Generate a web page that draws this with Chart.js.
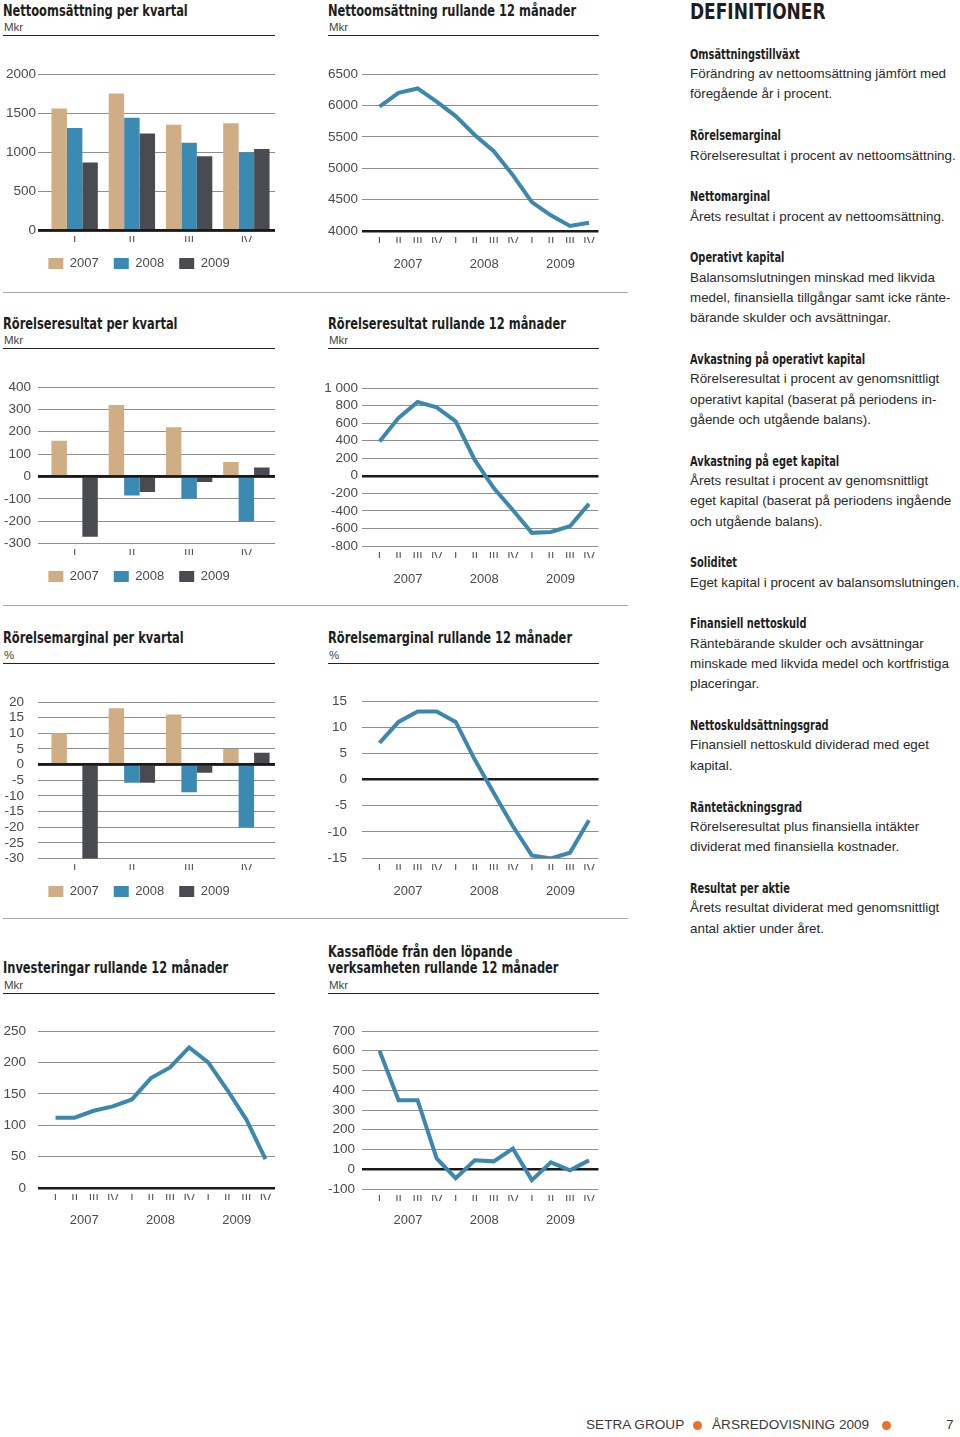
<!DOCTYPE html>
<html>
<head>
<meta charset="utf-8">
<script src="https://cdn.jsdelivr.net/npm/chart.js@4.4.1/dist/chart.umd.min.js"></script>
<style>
body { margin: 0; width: 960px; height: 1437px; position: relative; background: #fff; overflow: hidden;
       font-family: "Liberation Sans", Arial, sans-serif; color: #231f20; }
.title { position: absolute; font-family: "Liberation Sans Narrow", "DejaVu Sans Condensed", sans-serif;
         font-weight: bold; font-size: 15.5px; line-height: 17px; white-space: nowrap; color: #1e1e1e;
         transform: scaleX(0.82); transform-origin: 0 0; }
.unit { position: absolute; font-size: 11.5px; line-height: 14px; color: #444; }
.rule { position: absolute; height: 0; border-top: 1.3px solid #222; }
.sep { position: absolute; left: 3px; width: 625px; height: 0; border-top: 1.5px solid #a8a8a8; }
canvas { position: absolute; }
#defs { position: absolute; left: 690px; top: 43.8px; font-size: 13.4px; line-height: 20.35px; white-space: nowrap; color: #2a2a2a; }
#defs .h { font-family: "Liberation Sans Narrow", "DejaVu Sans Condensed", sans-serif; font-weight: bold; font-size: 13.5px;
           color: #1e1e1e; transform: scaleX(0.81); transform-origin: 0 50%; }
#defs .gap { height: 20.35px; }
#defhead { position: absolute; left: 690px; top: 0px; font-family: "Liberation Sans Narrow", "DejaVu Sans Condensed", sans-serif;
           font-weight: bold; font-size: 21px; line-height: 24px; color: #1e1e1e; transform: scaleX(0.9); transform-origin: 0 0; }
#foot { position: absolute; top: 1416px; left: 0; width: 960px; height: 18px; font-size: 13.6px; line-height: 18px; color: #3a3a3a; }
#foot span { position: absolute; }
#foot .dot { width: 9px; height: 9px; border-radius: 50%; background: #ec6f2d; top: 4.5px; }
</style>
</head>
<body>

<div class="title" style="left:3px;top:2.5px">Nettoomsättning per kvartal</div>
<div class="unit" style="left:4px;top:20px">Mkr</div>
<div class="rule" style="left:3px;top:35px;width:272px"></div>

<div class="title" style="left:328px;top:2.5px">Nettoomsättning rullande 12 månader</div>
<div class="unit" style="left:329px;top:20px">Mkr</div>
<div class="rule" style="left:328px;top:35px;width:271px"></div>

<div class="sep" style="top:292px"></div>

<div class="title" style="left:3px;top:315.5px">Rörelseresultat per kvartal</div>
<div class="unit" style="left:4px;top:333px">Mkr</div>
<div class="rule" style="left:3px;top:348px;width:272px"></div>

<div class="title" style="left:328px;top:315.5px">Rörelseresultat rullande 12 månader</div>
<div class="unit" style="left:329px;top:333px">Mkr</div>
<div class="rule" style="left:328px;top:348px;width:271px"></div>

<div class="sep" style="top:605px"></div>

<div class="title" style="left:3px;top:629.5px">Rörelsemarginal per kvartal</div>
<div class="unit" style="left:4px;top:648px">%</div>
<div class="rule" style="left:3px;top:663px;width:272px"></div>

<div class="title" style="left:328px;top:629.5px">Rörelsemarginal rullande 12 månader</div>
<div class="unit" style="left:329px;top:648px">%</div>
<div class="rule" style="left:328px;top:663px;width:271px"></div>

<div class="sep" style="top:918px"></div>

<div class="title" style="left:3px;top:959.5px">Investeringar rullande 12 månader</div>
<div class="unit" style="left:4px;top:978px">Mkr</div>
<div class="rule" style="left:3px;top:993px;width:272px"></div>

<div class="title" style="left:328px;top:943.5px;line-height:16.5px">Kassaflöde från den löpande<br>verksamheten rullande 12 månader</div>
<div class="unit" style="left:329px;top:978px">Mkr</div>
<div class="rule" style="left:328px;top:993px;width:271px"></div>

<canvas id="salesQ"></canvas>
<canvas id="salesR"></canvas>
<canvas id="ebitQ"></canvas>
<canvas id="ebitR"></canvas>
<canvas id="marginQ"></canvas>
<canvas id="marginR"></canvas>
<canvas id="investR"></canvas>
<canvas id="cashR"></canvas>

<div id="defhead">DEFINITIONER</div>
<div id="defs"></div>

<div id="foot">
  <span style="left:586px">SETRA GROUP</span>
  <span class="dot" style="left:692.5px"></span>
  <span style="left:712px">ÅRSREDOVISNING 2009</span>
  <span class="dot" style="left:881.5px"></span>
  <span style="left:946px">7</span>
</div>

<script>
// ---- data ----
const quarters = ['I', 'II', 'III', 'IV'];
const years = ['2007', '2008', '2009'];
const rollingQuarters = ['I', 'II', 'III', 'IV', 'I', 'II', 'III', 'IV', 'I', 'II', 'III', 'IV'];

// Nettoomsättning per kvartal, Mkr
const salesQ2007 = [1560, 1750, 1350, 1370];
const salesQ2008 = [1310, 1440, 1120, 1000];
const salesQ2009 = [870, 1240, 950, 1040];

// Nettoomsättning rullande 12 månader, Mkr
const salesRolling = [5980, 6200, 6270, 6060, 5830, 5530, 5270, 4890, 4460, 4250, 4080, 4130];

// Rörelseresultat per kvartal, Mkr
const ebitQ2007 = [160, 320, 220, 65];
const ebitQ2008 = [5, -85, -100, -200];
const ebitQ2009 = [-270, -70, -25, 40];

// Rörelseresultat rullande 12 månader, Mkr
const ebitRolling = [390, 660, 840, 780, 620, 180, -140, -390, -650, -640, -575, -320];

// Rörelsemarginal per kvartal, %
const marginQ2007 = [10, 18, 16, 5];
const marginQ2008 = [0.4, -5.8, -8.8, -20];
const marginQ2009 = [-30.5, -5.8, -2.6, 3.8];

// Rörelsemarginal rullande 12 månader, %
const marginRolling = [7, 11, 13, 13, 11, 3.8, -2.6, -8.9, -14.5, -15.1, -14, -7.8];

// Investeringar rullande 12 månader, Mkr
const investRolling = [112, 112, 123, 130, 141, 175, 192, 224, 200, 156, 109, 46];

// Kassaflöde från den löpande verksamheten rullande 12 månader, Mkr
const cashRolling = [600, 350, 350, 55, -45, 45, 40, 105, -55, 35, -5, 45];

const definitions = [
    ['Omsättningstillväxt', ['Förändring av nettoomsättning jämfört med', 'föregående år i procent.']],
    ['Rörelsemarginal', ['Rörelseresultat i procent av nettoomsättning.']],
    ['Nettomarginal', ['Årets resultat i procent av nettoomsättning.']],
    ['Operativt kapital', ['Balansomslutningen minskad med likvida', 'medel, finansiella tillgångar samt icke ränte-', 'bärande skulder och avsättningar.']],
    ['Avkastning på operativt kapital', ['Rörelseresultat i procent av genomsnittligt', 'operativt kapital (baserat på periodens in-', 'gående och utgående balans).']],
    ['Avkastning på eget kapital', ['Årets resultat i procent av genomsnittligt', 'eget kapital (baserat på periodens ingående', 'och utgående balans).']],
    ['Soliditet', ['Eget kapital i procent av balansomslutningen.']],
    ['Finansiell nettoskuld', ['Räntebärande skulder och avsättningar', 'minskade med likvida medel och kortfristiga', 'placeringar.']],
    ['Nettoskuldsättningsgrad', ['Finansiell nettoskuld dividerad med eget', 'kapital.']],
    ['Räntetäckningsgrad', ['Rörelseresultat plus finansiella intäkter', 'dividerat med finansiella kostnader.']],
    ['Resultat per aktie', ['Årets resultat dividerat med genomsnittligt', 'antal aktier under året.']]
];

// ---- styling ----
const TAN = '#cfae86';
const BLUE = '#3b8ab3';
const DARK = '#4a4a51';
const LINE = '#3d87ad';

Chart.defaults.font.family = '"Liberation Sans", Arial, sans-serif';
Chart.defaults.font.size = 13;
Chart.defaults.color = '#4a4a4a';
Chart.defaults.animation = false;

// column geometry: chart area runs 46-275 (left) and 370-598.5 (right)
const COLS = {
    left: { x: 3, w: 287, padL: 0, padR: 15, axisW: 43 },
    right: { x: 320, w: 290, padL: 0, padR: 11.5, axisW: 50 }
};
const TOP_PAD = 24;

// draws the heavy base line on top of the bars
const baseLinePlugin = {
    id: 'baseLine',
    afterDatasetsDraw(chart, args, opts) {
        if (opts.value === undefined) return;
        const y = chart.scales.y;
        const py = y.getPixelForValue(opts.value);
        const ctx = chart.ctx;
        ctx.save();
        ctx.strokeStyle = '#1a1a1a';
        ctx.lineWidth = 2.5;
        ctx.beginPath();
        ctx.moveTo(chart.chartArea.left - 8, py);
        ctx.lineTo(chart.chartArea.right, py);
        ctx.stroke();
        ctx.restore();
    }
};

function yScale(col, min, max, step, pad, base, fmt) {
    return {
        min: min,
        max: max,
        afterFit: s => { s.width = col.axisW; },
        border: { display: false },
        grid: {
            color: c => c.tick && c.tick.value === base ? '#1a1a1a' : '#8e8e8e',
            lineWidth: c => c.tick && c.tick.value === base ? 2.5 : 1,
            drawTicks: true,
            tickLength: 8
        },
        ticks: {
            stepSize: step,
            autoSkip: false,
            padding: pad,
            color: '#4a4a4a',
            font: { size: 13.5 },
            callback: fmt || (v => String(v))
        }
    };
}

function place(id, col, gridTop, height) {
    const canvas = document.getElementById(id);
    canvas.width = col.w;
    canvas.height = height;
    canvas.style.left = col.x + 'px';
    canvas.style.top = (gridTop - TOP_PAD) + 'px';
    return canvas;
}

function barChart(id, col, gridTop, gridBottom, yOpts, d2007, d2008, d2009) {
    const height = TOP_PAD + (gridBottom - gridTop) + 11.5 + 38;
    const canvas = place(id, col, gridTop, height);
    const ds = (label, data, color) => ({
        label: label,
        data: data,
        backgroundColor: color,
        borderWidth: 0,
        categoryPercentage: 0.81,
        barPercentage: 1
    });
    return new Chart(canvas.getContext('2d'), {
        type: 'bar',
        data: {
            labels: quarters,
            datasets: [ds(years[0], d2007, TAN), ds(years[1], d2008, BLUE), ds(years[2], d2009, DARK)]
        },
        options: {
            responsive: false,
            layout: { padding: { top: TOP_PAD, left: col.padL, right: col.padR, bottom: 0 } },
            plugins: {
                tooltip: { enabled: false },
                baseLine: { value: 0 },
                legend: {
                    display: true,
                    position: 'bottom',
                    labels: {
                        boxWidth: 15,
                        boxHeight: 11,
                        padding: 15,
                        color: '#4a4a4a',
                        font: { size: 13 }
                    }
                }
            },
            scales: {
                x: {
                    afterFit: s => { s.height = 11.5; },
                    border: { display: false },
                    grid: { display: false, drawTicks: false },
                    ticks: { padding: 4, font: { size: 12 }, color: '#555' }
                },
                y: yScale(col, yOpts.min, yOpts.max, yOpts.step, yOpts.pad, 0, yOpts.fmt)
            }
        },
        plugins: [baseLinePlugin]
    });
}

function lineChart(id, col, gridTop, gridBottom, yOpts, data, yearPad) {
    const height = TOP_PAD + (gridBottom - gridTop) + 12 + 40;
    const canvas = place(id, col, gridTop, height);
    return new Chart(canvas.getContext('2d'), {
        type: 'line',
        data: {
            labels: rollingQuarters,
            datasets: [{
                data: data,
                borderColor: LINE,
                borderWidth: 4,
                pointRadius: 0,
                tension: 0,
                fill: false
            }]
        },
        options: {
            responsive: false,
            layout: { padding: { top: TOP_PAD, left: col.padL, right: col.padR, bottom: 0 } },
            plugins: { legend: { display: false }, tooltip: { enabled: false } },
            scales: {
                x: {
                    offset: true,
                    afterFit: s => { s.height = 12; },
                    border: { display: false },
                    grid: { display: false, drawTicks: false },
                    ticks: { padding: 4, font: { size: 12 }, color: '#555', autoSkip: false, maxRotation: 0 }
                },
                years: {
                    type: 'category',
                    labels: years,
                    position: 'bottom',
                    offset: true,
                    afterFit: s => { s.height = 40; },
                    border: { display: false },
                    grid: { display: false, drawTicks: false },
                    ticks: { padding: yearPad, font: { size: 13 }, color: '#4a4a4a' }
                },
                y: yScale(col, yOpts.min, yOpts.max, yOpts.step, yOpts.pad, yOpts.base, yOpts.fmt)
            }
        }
    });
}

const spaced = v => (Math.abs(v) >= 1000 ? String(v).replace(/(\d)(\d{3})$/, '$1 $2') : String(v));

barChart('salesQ', COLS.left, 74, 231, { min: 0, max: 2000, step: 500, pad: 2 }, salesQ2007, salesQ2008, salesQ2009);
lineChart('salesR', COLS.right, 74, 231, { min: 4000, max: 6500, step: 500, pad: 4, base: 4000 }, salesRolling, 13.2);

barChart('ebitQ', COLS.left, 387, 544, { min: -300, max: 400, step: 100, pad: 7 }, ebitQ2007, ebitQ2008, ebitQ2009);
lineChart('ebitR', COLS.right, 388, 546, { min: -800, max: 1000, step: 200, pad: 4, base: 0, fmt: spaced }, ebitRolling, 13.2);

barChart('marginQ', COLS.left, 702, 859, { min: -30, max: 20, step: 5, pad: 14 }, marginQ2007, marginQ2008, marginQ2009);
lineChart('marginR', COLS.right, 701, 858, { min: -15, max: 15, step: 5, pad: 15, base: 0 }, marginRolling, 13.2);

lineChart('investR', COLS.left, 1031, 1188, { min: 0, max: 250, step: 50, pad: 12, base: 0 }, investRolling, 12.2);
lineChart('cashR', COLS.right, 1031, 1189, { min: -100, max: 700, step: 100, pad: 7, base: 0 }, cashRolling, 11.2);

// definitions column
const defs = document.getElementById('defs');
definitions.forEach(([head, lines], i) => {
    if (i > 0) {
        const gap = document.createElement('div');
        gap.className = 'gap';
        defs.appendChild(gap);
    }
    const h = document.createElement('div');
    h.className = 'h';
    h.textContent = head;
    defs.appendChild(h);
    lines.forEach(line => {
        const d = document.createElement('div');
        d.textContent = line;
        defs.appendChild(d);
    });
});
</script>
</body>
</html>
